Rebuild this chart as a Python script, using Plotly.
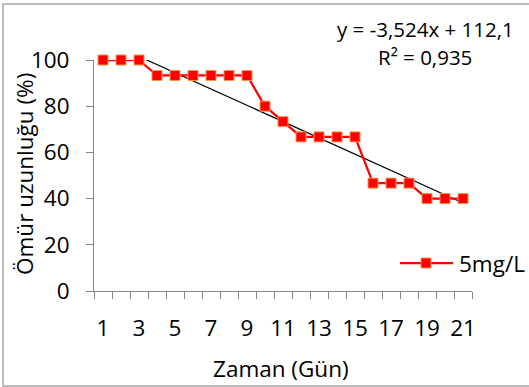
import plotly.graph_objects as go

# Survival over time at 5 mg/L
days = list(range(1, 22))
survival = [100, 100, 100, 93.3, 93.3, 93.3, 93.3, 93.3, 93.3, 80, 73.3,
            66.7, 66.7, 66.7, 66.7, 46.7, 46.7, 46.7, 40, 40, 40]
series_name = "5mg/L"

# Linear trend coefficients
slope = -3.524
intercept = 112.1
r_squared = 0.935

x_tick_labels = [str(d) for d in range(1, 22, 2)]
y_ticks = [0, 20, 40, 60, 80, 100]

W, H = 529, 387
L, R, T, B = 94, 57, 60, 96
PW, PH = W - L - R, H - T - B


def px(x):
    return (x - L) / PW


def py(y):
    return (H - B - y) / PH


FONT = "Open Sans"
RED = "#FF0000"
EDGE = "#F79646"
AXIS = "#868686"
TXT = 22.5


def comma(v, nd):
    return f"{v:.{nd}f}".replace(".", ",")


fig = go.Figure()

trend_x = [days[0], days[-1]]
trend_y = [slope * x + intercept for x in trend_x]
fig.add_trace(go.Scatter(x=trend_x, y=trend_y, mode="lines",
                         line=dict(color="black", width=1.2),
                         showlegend=False, hoverinfo="skip"))

fig.add_trace(go.Scatter(x=days, y=survival, mode="lines+markers",
                         name=series_name,
                         line=dict(color=RED, width=2.25),
                         marker=dict(symbol="square", size=10, color=RED,
                                     line=dict(color=EDGE, width=1)),
                         cliponaxis=False, showlegend=False))

fig.update_xaxes(range=[0.5, 21.5], showgrid=False, zeroline=False,
                 showline=True, linecolor=AXIS, linewidth=1,
                 tickmode="array", tickvals=list(range(1, 22, 2)),
                 ticktext=x_tick_labels, ticks="", ticklabelstandoff=17,
                 tickfont=dict(family=FONT, size=TXT, color="black"),
                 minor=dict(ticks="outside", tick0=0.5, dtick=1, ticklen=7,
                            tickcolor=AXIS, tickwidth=1, showgrid=False))
fig.update_yaxes(range=[0, 100], showgrid=False, zeroline=False,
                 showline=True, linecolor=AXIS, linewidth=1,
                 tickmode="array", tickvals=y_ticks,
                 ticks="outside", ticklen=7, tickcolor=AXIS, tickwidth=1,
                 ticklabelstandoff=12,
                 tickfont=dict(family=FONT, size=TXT, color="black"))

shapes = [
    # chart frame
    dict(type="rect", xref="paper", yref="paper",
         x0=px(3), x1=px(545), y0=py(386), y1=py(4),
         line=dict(color="#A6A6A6", width=1.5), fillcolor="rgba(0,0,0,0)"),
    # legend key
    dict(type="line", xref="paper", yref="paper",
         x0=px(400), x1=px(453), y0=py(263), y1=py(263),
         line=dict(color=RED, width=2.25)),
    dict(type="rect", xref="paper", yref="paper",
         x0=px(421), x1=px(431), y0=py(268), y1=py(258),
         line=dict(color=EDGE, width=1), fillcolor=RED),
]

annotations = [
    dict(text=f"y = {comma(slope, 3)}x + {comma(intercept, 1)}",
         x=px(425), y=py(29), xref="paper", yref="paper",
         xanchor="center", yanchor="middle", showarrow=False,
         font=dict(family=FONT, size=20.5, color="black")),
    dict(text=f"R² = {comma(r_squared, 3)}",
         x=px(425), y=py(57), xref="paper", yref="paper",
         xanchor="center", yanchor="middle", showarrow=False,
         font=dict(family=FONT, size=20.5, color="black")),
    dict(text=series_name, x=px(457), y=py(263), xref="paper", yref="paper",
         xanchor="left", yanchor="middle", showarrow=False,
         font=dict(family=FONT, size=TXT, color="black")),
    dict(text="Zaman (Gün)", x=px(281), y=py(368), xref="paper", yref="paper",
         xanchor="center", yanchor="middle", showarrow=False,
         font=dict(family=FONT, size=TXT, color="black")),
    dict(text="Ömür uzunluğu (%)", x=px(24), y=py(174), xref="paper",
         yref="paper", xanchor="center", yanchor="middle", textangle=-90,
         showarrow=False, font=dict(family=FONT, size=TXT, color="black")),
]

fig.update_layout(width=W, height=H,
                  margin=dict(l=L, r=R, t=T, b=B, pad=0),
                  paper_bgcolor="white", plot_bgcolor="white",
                  showlegend=False, shapes=shapes, annotations=annotations)

fig.write_html("out.html", config={"displayModeBar": False})
